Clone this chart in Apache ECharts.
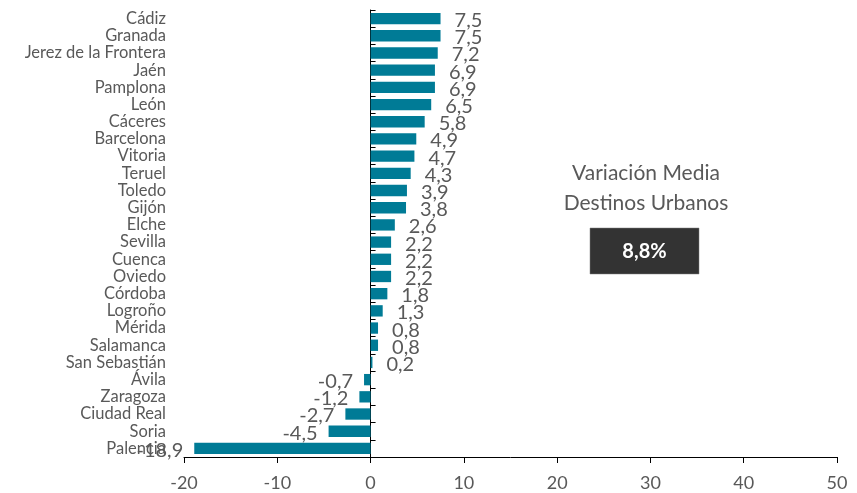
<!DOCTYPE html>
<html>
<head>
<meta charset="utf-8">
<script src="https://cdn.jsdelivr.net/npm/echarts@6/dist/echarts.min.js"></script>
<style>
  html, body { margin: 0; padding: 0; background: #fff; }
  #chart { width: 857px; height: 493px; }
</style>
</head>
<body>
<div id="chart"></div>
<script>
// Cities, top to bottom
const cityNames = [
  'Cádiz', 'Granada', 'Jerez de la Frontera', 'Jaén', 'Pamplona', 'León',
  'Cáceres', 'Barcelona', 'Vitoria', 'Teruel', 'Toledo', 'Gijón', 'Elche',
  'Sevilla', 'Cuenca', 'Oviedo', 'Córdoba', 'Logroño', 'Mérida', 'Salamanca',
  'San Sebastián', 'Ávila', 'Zaragoza', 'Ciudad Real', 'Soria', 'Palencia'
];
// Variation per city (%)
const variation = [
  7.5, 7.5, 7.2, 6.9, 6.9, 6.5, 5.8, 4.9, 4.7, 4.3, 3.9, 3.8, 2.6,
  2.2, 2.2, 2.2, 1.8, 1.3, 0.8, 0.8, 0.2, -0.7, -1.2, -2.7, -4.5, -18.9
];
// Value axis ticks
const xTicks = [-20, -10, 0, 10, 20, 30, 40, 50];
// Average box
const avgTitle = ['Variación Media', 'Destinos Urbanos'];
const avgValue = '8,8%';

const FONT = 'Lato, "Open Sans", sans-serif';
const GREY = '#595959';
const BAR = '#007B96';

const fmt = v => String(v).replace('.', ',');

const barData = variation.map(v => ({
  value: v,
  label: {
    position: v >= 0 ? 'right' : 'left',
    distance: v >= 0 ? 14 : 11
  }
}));

const chart = echarts.init(document.getElementById('chart'), null, { renderer: 'canvas' });
chart.setOption({
  animation: false,
  backgroundColor: '#ffffff',
  grid: { left: 184, right: 20, top: 10, bottom: 36, containLabel: false },
  xAxis: {
    type: 'value',
    min: xTicks[0],
    max: xTicks[xTicks.length - 1],
    interval: 10,
    splitLine: { show: false },
    axisLine: { show: true, onZero: false, lineStyle: { color: '#000', width: 1 } },
    axisTick: { show: true, length: 6, lineStyle: { color: '#000' } },
    axisLabel: { color: GREY, fontFamily: FONT, fontSize: 18, margin: 17 }
  },
  yAxis: [
    {
      type: 'category',
      data: cityNames,
      inverse: true,
      position: 'left',
      axisLine: { show: false, onZero: false },
      axisTick: { show: false },
      axisLabel: { interval: 0, color: GREY, fontFamily: FONT, fontSize: 16.5, margin: 18 }
    },
    {
      type: 'category',
      data: cityNames,
      inverse: true,
      axisLine: { show: true, onZero: true, lineStyle: { color: '#000', width: 1 } },
      axisTick: { show: true, inside: false, length: 5, interval: 0, lineStyle: { color: '#000' } },
      axisLabel: { show: false }
    }
  ],
  series: [{
    type: 'bar',
    yAxisIndex: 0,
    data: barData,
    barCategoryGap: '34%',
    itemStyle: { color: BAR },
    label: {
      show: true,
      color: GREY,
      fontFamily: FONT,
      fontSize: 20,
      offset: [0, 2],
      formatter: p => fmt(p.value)
    }
  }],
  graphic: [
    {
      type: 'text',
      style: {
        x: 646,
        y: 188,
        text: avgTitle.join('\n'),
        fill: GREY,
        font: '21px ' + FONT,
        align: 'center',
        verticalAlign: 'middle',
        lineHeight: 30
      }
    },
    {
      type: 'rect',
      shape: { x: 590, y: 228, width: 109, height: 46 },
      style: { fill: '#333333', stroke: '#7f7f7f', lineWidth: 0.5 }
    },
    {
      type: 'text',
      style: { x: 644.5, y: 252, text: avgValue, fill: '#ffffff',
        font: 'bold 20px ' + FONT, align: 'center', verticalAlign: 'middle' }
    }
  ]
});
</script>
</body>
</html>
